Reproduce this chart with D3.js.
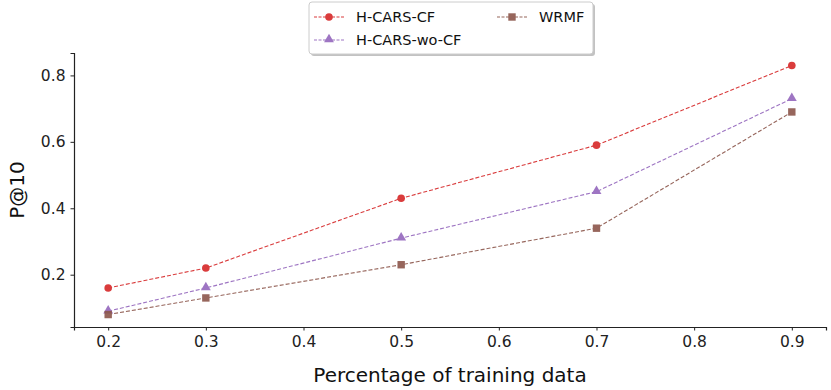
<!DOCTYPE html>
<html>
<head>
<meta charset="utf-8">
<script src="https://cdn.jsdelivr.net/npm/d3@7/dist/d3.min.js"></script>
<style>
  body { margin: 0; background: #fff; }
  svg { font-family: "DejaVu Sans", sans-serif; }
</style>
</head>
<body>
<svg id="chart" width="831" height="390"></svg>
<script>
// data
var xs = [0.2, 0.3, 0.5, 0.7, 0.9];
var hcarsCF = [0.16, 0.22, 0.43, 0.59, 0.83];
var hcarsWoCF = [0.09, 0.16, 0.31, 0.45, 0.73];
var wrmf = [0.08, 0.13, 0.23, 0.34, 0.69];
var xTicks = [0.2, 0.3, 0.4, 0.5, 0.6, 0.7, 0.8, 0.9];
var yTicks = [0.2, 0.4, 0.6, 0.8];

var series = [
    {name: "H-CARS-CF", values: hcarsCF, color: "#d62728", shape: "circle"},
    {name: "H-CARS-wo-CF", values: hcarsWoCF, color: "#9467bd", shape: "triangle"},
    {name: "WRMF", values: wrmf, color: "#8c564b", shape: "square"}
];

var svg = d3.select("#chart");
var plotL = 74, plotR = 826, plotT = 53, plotB = 327;

// matplotlib style 5% margins
var x = d3.scaleLinear().domain([0.165, 0.935]).range([plotL, plotR]);
var y = d3.scaleLinear().domain([0.0425, 0.8675]).range([plotB, plotT]);

var xAxis = svg.append("g")
    .attr("transform", "translate(0," + plotB + ")")
    .call(d3.axisBottom(x).tickValues(xTicks).tickFormat(d3.format(".1f")).tickSizeOuter(0).tickSize(3.5).tickPadding(5));
var yAxis = svg.append("g")
    .attr("transform", "translate(" + plotL + ",0)")
    .call(d3.axisLeft(y).tickValues(yTicks).tickFormat(d3.format(".1f")).tickSizeOuter(0).tickSize(3.5).tickPadding(5));

[xAxis, yAxis].forEach(function (g) {
    g.select(".domain").attr("stroke", "#222").attr("stroke-width", 1.2);
    g.selectAll(".tick line").attr("stroke", "#222");
    g.selectAll(".tick text").attr("fill", "#222").style("font-size", "15.5px").style("font-family", "DejaVu Sans");
});

svg.append("text")
    .attr("x", (plotL + plotR) / 2)
    .attr("y", 382)
    .attr("text-anchor", "middle")
    .style("font-size", "20px")
    .attr("fill", "#111")
    .text("Percentage of training data");

svg.append("text")
    .attr("transform", "translate(24," + ((plotT + plotB) / 2) + ") rotate(-90)")
    .attr("text-anchor", "middle")
    .style("font-size", "20px")
    .attr("fill", "#111")
    .text("P@10");

var line = d3.line()
    .x(function (d, i) { return x(xs[i]); })
    .y(function (d) { return y(d); });

function marker(g, shape, color, cx, cy) {
    if (shape === "circle") {
        g.append("circle").attr("cx", cx).attr("cy", cy).attr("r", 3.8).attr("fill", color);
    } else if (shape === "triangle") {
        g.append("path").attr("d", d3.symbol().type(d3.symbolTriangle).size(42)())
            .attr("transform", "translate(" + cx + "," + (cy - 0.5) + ")").attr("fill", color);
    } else {
        g.append("rect").attr("x", cx - 3.7).attr("y", cy - 3.7).attr("width", 7.4).attr("height", 7.4).attr("fill", color);
    }
}

series.forEach(function (s) {
    var g = svg.append("g").attr("opacity", 0.9);
    g.append("path")
        .attr("d", line(s.values))
        .attr("fill", "none")
        .attr("stroke", s.color)
        .attr("stroke-width", 1.1)
        .attr("stroke-dasharray", "4,2");
    s.values.forEach(function (v, i) {
        marker(g, s.shape, s.color, x(xs[i]), y(v));
    });
});

// legend
var lg = svg.append("g");
lg.append("rect").attr("x", 311).attr("y", 4).attr("width", 284).attr("height", 52)
    .attr("rx", 3).attr("fill", "#999").attr("opacity", 0.6);
lg.append("rect").attr("x", 309).attr("y", 2).attr("width", 284).attr("height", 52)
    .attr("rx", 3).attr("fill", "#fff").attr("stroke", "#ccc").attr("stroke-width", 1);

var legendPos = [[314, 17], [314, 40], [497, 17]];
series.forEach(function (s, i) {
    var px = legendPos[i][0], py = legendPos[i][1];
    var g = lg.append("g").attr("opacity", 0.9);
    g.append("line").attr("x1", px).attr("x2", px + 30).attr("y1", py).attr("y2", py)
        .attr("stroke", s.color).attr("stroke-width", 1.1).attr("stroke-dasharray", "3,1.5");
    marker(g, s.shape, s.color, px + 15, py);
    lg.append("text").attr("x", px + 42).attr("y", py + 5)
        .style("font-size", "14.5px").attr("fill", "#111").text(s.name);
});
</script>
</body>
</html>
